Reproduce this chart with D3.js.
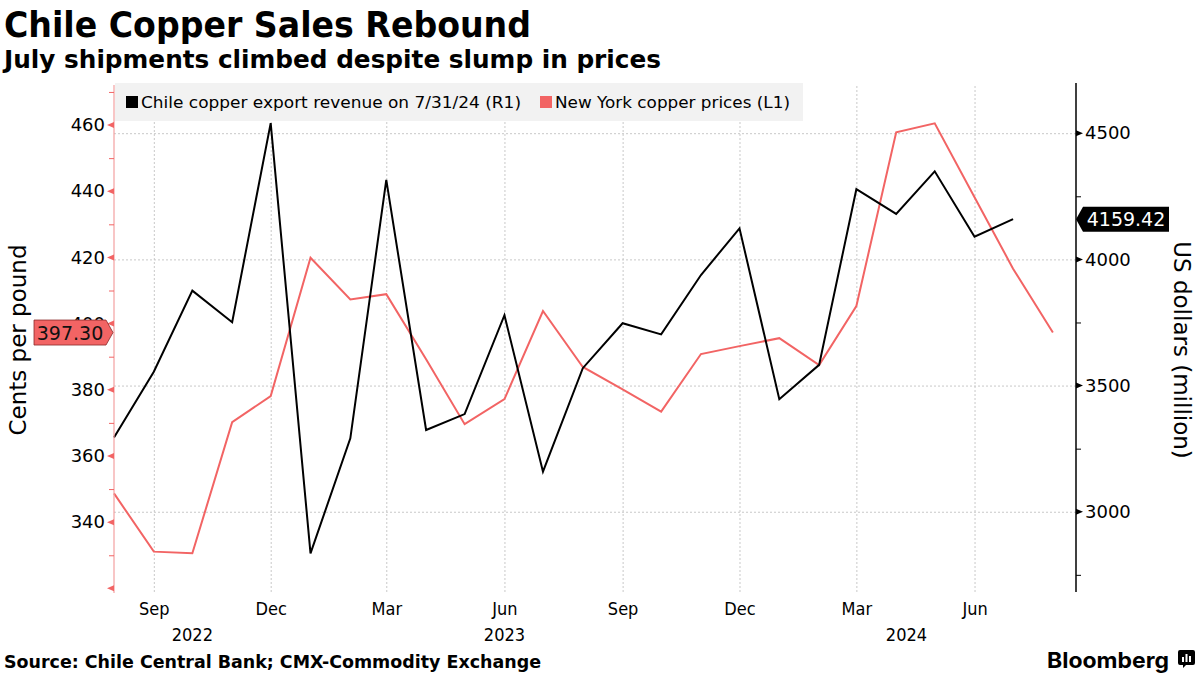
<!DOCTYPE html>
<html>
<head>
<meta charset="utf-8">
<script src="https://cdn.jsdelivr.net/npm/d3@7"></script>
<style>
  html, body { margin: 0; padding: 0; background: #fff; }
  svg { display: block; }
</style>
</head>
<body>
<svg id="chart" width="1200" height="675"></svg>
<script>
// ---- data ----
const months = [
  "2022-08","2022-09","2022-10","2022-11","2022-12",
  "2023-01","2023-02","2023-03","2023-04","2023-05","2023-06",
  "2023-07","2023-08","2023-09","2023-10","2023-11","2023-12",
  "2024-01","2024-02","2024-03","2024-04","2024-05","2024-06","2024-07","2024-08"
];
// Chile copper export revenue, US$ million (R1)
const exportRevenue = [
  3294, 3555, 3876, 3751, 4540,
  2835, 3291, 4315, 3324, 3387, 3779,
  3159, 3569, 3747, 3703, 3938, 4123,
  3446, 3582, 4278, 4180, 4349, 4090, 4159.42
];
// New York copper prices, cents per pound (L1)
const copperPrices = [
  348.7, 331.1, 330.6, 370.2, 378.1,
  419.9, 407.3, 408.9, 389.2, 369.6, 377.2,
  403.8, 386.9, 380.1, 373.4, 390.8, 393.2,
  395.6, 387.5, 405.3, 457.8, 460.5, 438.2, 416.6, 397.30
];
const leftTicks = [340, 360, 380, 400, 420, 440, 460];
const leftTicksNoLabel = [320];
const leftMinor = [330, 350, 370, 390, 410, 430, 450, 470];
const rightTicks = [3000, 3500, 4000, 4500];
const rightMinor = [2750, 3250, 3750, 4250];
const xTickDates = ["2022-09","2022-12","2023-03","2023-06","2023-09","2023-12","2024-03","2024-06"];
const yearLabels = [["2022","2022-10-01"],["2023","2023-06-01"],["2024","2024-04-09"]];
const seriesNames = ["Chile copper export revenue on 7/31/24 (R1)", "New York copper prices (L1)"];

// ---- layout ----
const svg = d3.select("#chart");
const L = 114, R = 1076, T = 85, B = 592;
const RED = "#f26464";
const FONT = "'DejaVu Sans', Verdana, sans-serif";
const COND = "'DejaVu Sans Condensed', 'DejaVu Sans', sans-serif";

const parseM = d3.timeParse("%Y-%m");
const parseD = d3.timeParse("%Y-%m-%d");
const dates = months.map(parseM);

const x = d3.scaleTime().domain([new Date(2022,7,1), new Date(2024,7,19)]).range([L, R]);
const yL = d3.scaleLinear().domain([318.9, 472.1]).range([B, T]);
const yR = d3.scaleLinear().domain([2682, 4691]).range([B, T]);

// ---- titles ----
svg.append("text").attr("x", 4).attr("y", 37)
  .attr("font-family", COND).attr("font-weight", "bold").attr("font-size", 36)
  .attr("textLength", 527).attr("lengthAdjust", "spacingAndGlyphs")
  .text("Chile Copper Sales Rebound");
svg.append("text").attr("x", 4).attr("y", 68)
  .attr("font-family", COND).attr("font-weight", "bold").attr("font-size", 24)
  .attr("textLength", 657).attr("lengthAdjust", "spacingAndGlyphs")
  .text("July shipments climbed despite slump in prices");

// ---- gridlines ----
const gridH = svg.append("g").attr("transform", `translate(${L},0)`)
  .call(d3.axisLeft(yR).tickValues(rightTicks).tickSize(-(R - L)).tickFormat(""));
const gridV = svg.append("g").attr("transform", `translate(0,${B})`)
  .call(d3.axisBottom(x).tickValues(xTickDates.map(parseM)).tickSize(-(B - T)).tickFormat(""));
[gridH, gridV].forEach(g => {
  g.select(".domain").remove();
  g.selectAll("line").attr("stroke", "#c8c8c8").attr("stroke-dasharray", "2,2").attr("stroke-width", 1);
});

// ---- legend ----
const lg = svg.append("g");
lg.append("rect").attr("x", 115).attr("y", 83).attr("width", 688).attr("height", 38).attr("fill", "#f2f2f2");
lg.append("rect").attr("x", 126).attr("y", 96).attr("width", 12).attr("height", 12).attr("fill", "#000");
lg.append("text").attr("x", 141).attr("y", 108).attr("font-family", FONT).attr("font-size", 15.5)
  .attr("textLength", 380).attr("lengthAdjust", "spacingAndGlyphs").text(seriesNames[0]);
lg.append("rect").attr("x", 540).attr("y", 96).attr("width", 12).attr("height", 12).attr("fill", RED);
lg.append("text").attr("x", 555).attr("y", 108).attr("font-family", FONT).attr("font-size", 15.5)
  .attr("textLength", 235).attr("lengthAdjust", "spacingAndGlyphs").text(seriesNames[1]);

// ---- lines ----
const lineR = d3.line().x((d, i) => x(dates[i])).y(d => yR(d));
const lineL = d3.line().x((d, i) => x(dates[i])).y(d => yL(d));
svg.append("path").datum(copperPrices).attr("d", lineL)
  .attr("fill", "none").attr("stroke", RED).attr("stroke-width", 2).attr("stroke-linejoin", "miter");
svg.append("path").datum(exportRevenue).attr("d", lineR)
  .attr("fill", "none").attr("stroke", "#000").attr("stroke-width", 2).attr("stroke-linejoin", "miter");

// ---- left axis ----
const axL = svg.append("g").attr("transform", `translate(${L},0)`)
  .call(d3.axisLeft(yL).tickValues(leftTicks).tickSize(0).tickPadding(9).tickFormat(d3.format("d")));
axL.select(".domain").remove();
axL.selectAll("text").attr("font-family", FONT).attr("font-size", 18).attr("fill", "#000");
svg.append("line").attr("x1", L).attr("x2", L).attr("y1", T).attr("y2", B + 1)
  .attr("stroke", "#f4a0a0").attr("stroke-width", 1.2);
const axLm = svg.append("g").attr("transform", `translate(${L},0)`)
  .call(d3.axisLeft(yL).tickValues(leftMinor).tickSize(5).tickFormat(""));
axLm.select(".domain").remove();
axLm.selectAll("line").attr("stroke", RED);
svg.append("g").selectAll("path").data(leftTicks.concat(leftTicksNoLabel)).join("path")
  .attr("d", d => `M${L - 7},${yL(d)} L${L},${yL(d) - 3} L${L},${yL(d) + 3} Z`)
  .attr("fill", RED);

// ---- right axis ----
const axR = svg.append("g").attr("transform", `translate(${R},0)`)
  .call(d3.axisRight(yR).tickValues(rightTicks).tickSize(0).tickPadding(9).tickFormat(d3.format("d")));
axR.select(".domain").remove();
axR.selectAll("text").attr("font-family", FONT).attr("font-size", 18).attr("fill", "#000");
svg.append("line").attr("x1", R).attr("x2", R).attr("y1", T - 2).attr("y2", B)
  .attr("stroke", "#000").attr("stroke-width", 1.5);
const axRm = svg.append("g").attr("transform", `translate(${R},0)`)
  .call(d3.axisRight(yR).tickValues(rightMinor).tickSize(5).tickFormat(""));
axRm.select(".domain").remove();
axRm.selectAll("line").attr("stroke", "#000");
svg.append("g").selectAll("path").data(rightTicks).join("path")
  .attr("d", d => `M${R + 7},${yR(d)} L${R},${yR(d) - 3} L${R},${yR(d) + 3} Z`)
  .attr("fill", "#000");

// ---- x axis labels ----
const fmtM = d3.timeFormat("%b");
const axX = svg.append("g").attr("transform", `translate(0,${B})`)
  .call(d3.axisBottom(x).tickValues(xTickDates.map(parseM)).tickSize(0).tickPadding(10).tickFormat(fmtM));
axX.select(".domain").remove();
axX.selectAll("text").attr("font-family", COND).attr("font-size", 18).attr("fill", "#000");
svg.append("g").selectAll("text").data(yearLabels).join("text")
  .attr("x", d => x(parseD(d[1]))).attr("y", 641).attr("text-anchor", "middle")
  .attr("font-family", COND).attr("font-size", 18).text(d => d[0]);

// ---- axis titles ----
svg.append("text").attr("transform", `translate(26,340) rotate(-90)`).attr("text-anchor", "middle")
  .attr("font-family", FONT).attr("font-size", 23).text("Cents per pound");
svg.append("text").attr("transform", `translate(1174,350) rotate(90)`).attr("text-anchor", "middle")
  .attr("font-family", FONT).attr("font-size", 23).text("US dollars (million)");

// ---- last value tags ----
const lastL = copperPrices[copperPrices.length - 1];
const yl = yL(lastL);
svg.append("path")
  .attr("d", `M34,${yl - 12.5} L106,${yl - 12.5} L113,${yl} L106,${yl + 12.5} L34,${yl + 12.5} Z`)
  .attr("fill", RED).attr("stroke", "#8a2a2a").attr("stroke-width", 0.8);
svg.append("text").attr("x", 70).attr("y", yl + 7).attr("text-anchor", "middle")
  .attr("font-family", FONT).attr("font-size", 19).attr("fill", "#111").text(d3.format(".2f")(lastL));

const lastR = exportRevenue[exportRevenue.length - 1];
const yr = yR(lastR);
svg.append("path")
  .attr("d", `M${R},${yr} L${R + 7},${yr - 12.5} L1169,${yr - 12.5} L1169,${yr + 12.5} L${R + 7},${yr + 12.5} Z`)
  .attr("fill", "#000");
svg.append("text").attr("x", 1126).attr("y", yr + 7).attr("text-anchor", "middle")
  .attr("font-family", FONT).attr("font-size", 19).attr("fill", "#fff").text(d3.format(".2f")(lastR));

// ---- footer ----
svg.append("text").attr("x", 4).attr("y", 668)
  .attr("font-family", COND).attr("font-weight", "bold").attr("font-size", 17)
  .attr("textLength", 537).attr("lengthAdjust", "spacingAndGlyphs")
  .text("Source: Chile Central Bank; CMX-Commodity Exchange");
svg.append("text").attr("x", 1047).attr("y", 668)
  .attr("font-family", "Inter, Roboto, sans-serif").attr("font-weight", "bold").attr("font-size", 22)
  .attr("textLength", 122).attr("lengthAdjust", "spacingAndGlyphs").text("Bloomberg");
const ic = svg.append("g").attr("transform", "translate(1178,650)");
ic.append("path").attr("d", "M2,0 H15 Q17,0 17,2 V13 Q17,15 15,15 H8 L5,18 L5,15 H2 Q0,15 0,13 V2 Q0,0 2,0 Z").attr("fill", "#000");
ic.append("rect").attr("x", 4).attr("y", 7).attr("width", 2).attr("height", 5).attr("fill", "#fff");
ic.append("rect").attr("x", 7.5).attr("y", 4).attr("width", 2).attr("height", 8).attr("fill", "#fff");
ic.append("rect").attr("x", 11).attr("y", 6).attr("width", 2).attr("height", 6).attr("fill", "#fff");
</script>
</body>
</html>
